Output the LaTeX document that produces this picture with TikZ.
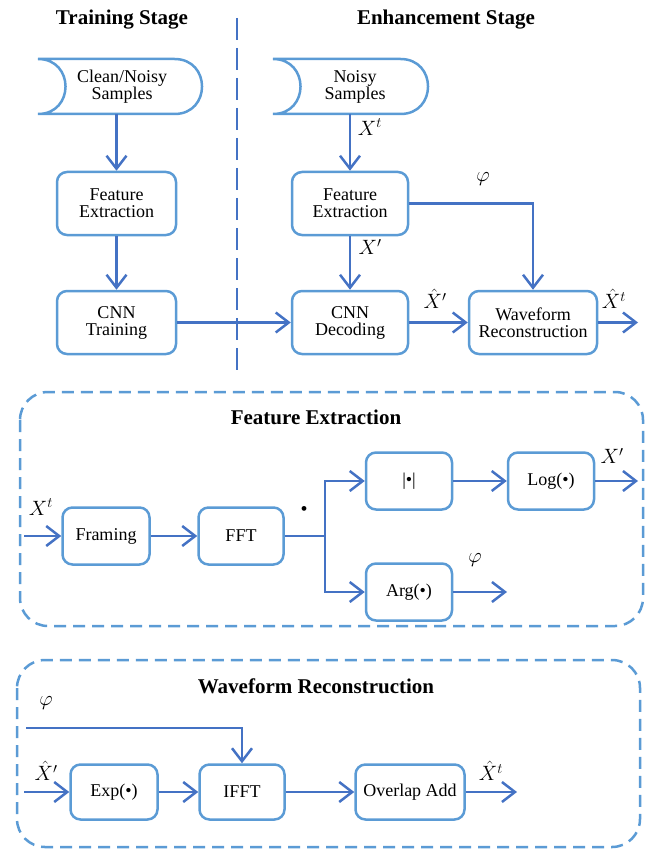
\documentclass[tikz,border=0pt]{standalone}
\usepackage{fontspec}
\setmainfont{Liberation Serif}
\usetikzlibrary{arrows.meta}
\definecolor{boxblue}{RGB}{91,155,213}
\definecolor{arrblue}{RGB}{68,114,196}
\begin{document}
\begin{tikzpicture}[x=1pt,y=-1pt,
  box/.style={draw=boxblue, line width=2.5pt, rounded corners=10pt, align=center,
    font=\fontsize{18}{17}\selectfont, inner sep=0pt},
  txt/.style={align=center, font=\fontsize{18}{17}\selectfont, inner sep=0pt},
  sampleshape/.style={draw=boxblue, line width=2.5pt},
  arr/.style={draw=arrblue, line width=2.5pt, -{Straight Barb[length=13pt,width=20pt]}},
  ln/.style={draw=arrblue, line width=2.5pt},
  ttl/.style={font=\fontsize{21}{24}\selectfont\bfseries, inner sep=0pt},
  lbl/.style={font=\fontsize{20}{22}\selectfont, inner sep=0pt},
  panel/.style={draw=boxblue, line width=2.5pt, dash pattern=on 12pt off 7pt, rounded corners=28pt}]
\useasboundingbox (0,0) rectangle (649,850);

% ---------- top section ----------
\node[ttl] (t1) at (122,20) {Training Stage};
\node[ttl] (t2) at (446,20) {Enhancement Stage};
\draw[arrblue, line width=2.5pt, dash pattern=on 22pt off 8pt] (237,18) -- (237,372);

% sample shapes
\draw[sampleshape] (38,59) -- (174.5,59) .. controls (211.2,59) and (211.2,114) .. (174.5,114)
  -- (38,114) .. controls (74.7,114) and (74.7,59) .. (38,59) -- cycle;
\node[txt] (cs) at (122,86.5) {Clean/Noisy\\Samples};
\coordinate (csb) at (116.5,114);

\draw[sampleshape] (273,59) -- (400.5,59) .. controls (437.2,59) and (437.2,114) .. (400.5,114)
  -- (273,114) .. controls (309.7,114) and (309.7,59) .. (273,59) -- cycle;
\node[txt] (ns) at (355,86.5) {Noisy\\Samples};
\coordinate (nsb) at (350,114);

\node[box, minimum width=119pt, minimum height=63pt] (fe1) at (116.5,203.5) {Feature\\Extraction};
\node[box, minimum width=119pt, minimum height=63pt] (cnt) at (116.5,322.5) {CNN\\Training};
\node[box, minimum width=116pt, minimum height=63pt] (fe2) at (350,203.5) {Feature\\Extraction};
\node[box, minimum width=116pt, minimum height=63pt] (cnd) at (350,322.5) {CNN\\Decoding};
\node[box, minimum width=128pt, minimum height=63pt] (wr) at (533,322.5) {Waveform\\Reconstruction};
\coordinate (wrout) at (638,322.5);

\draw[arr] (csb) -- (fe1.north);
\draw[arr] (fe1) -- (cnt);
\draw[arr] (cnt) -- (cnd);
\draw[arr] (nsb) -- (fe2.north);
\draw[arr] (fe2) -- (cnd);
\draw[arr] (fe2.east) -- (wr.north |- fe2.east) -- (wr.north);
\draw[arr] (cnd) -- (wr);
\draw[arr] (wr.east) -- (wrout);

\node[lbl] (l1) at (370,127) {$X^t$};
\node[lbl] (l2) at (370,247) {$X'$};
\node[lbl] (l3) at (483,179) {$\varphi$};
\node[lbl] (l4) at (435,299) {$\hat{X}'$};
\node[lbl] (l5) at (614,299) {$\hat{X}^t$};

% ---------- Feature Extraction panel ----------
\draw[panel] (20,392) rectangle (643,626);
\node[ttl] (t3) at (316,417) {Feature Extraction};

\node[box, minimum width=87pt, minimum height=57pt] (fr) at (106,536) {Framing};
\node[box, minimum width=85pt, minimum height=57pt] (fft) at (241,536) {FFT};
\node[box, minimum width=86pt, minimum height=57pt] (abs) at (409,481) {|•|};
\node[box, minimum width=86pt, minimum height=57pt] (log) at (551,481) {Log(•)};
\node[box, minimum width=86pt, minimum height=57pt] (arg) at (409,592) {Arg(•)};
\coordinate (fein) at (24,536);
\coordinate (br) at (325,536);
\coordinate (logout) at (638,481);
\coordinate (argout) at (507,592);

\draw[arr] (fein) -- (fr);
\draw[arr] (fr) -- (fft);
\draw[ln] (fft.east) -- (br);
\draw[arr] (br) |- (abs.west);
\draw[arr] (br) |- (arg.west);
\draw[arr] (abs) -- (log);
\draw[arr] (log.east) -- (logout);
\draw[arr] (arg.east) -- (argout);

\node[lbl] (l6) at (41,507) {$X^t$};
\node[lbl] (l7) at (304,511) {•};
\node[lbl] (l8) at (612,456) {$X'$};
\node[lbl] (l9) at (475,560) {$\varphi$};

% ---------- Waveform Reconstruction panel ----------
\draw[panel] (17,660) rectangle (640,847);
\node[ttl] (t4) at (316,686) {Waveform Reconstruction};

\node[box, minimum width=87pt, minimum height=55pt] (exp) at (114,792) {Exp(•)};
\node[box, minimum width=85pt, minimum height=55pt] (ifft) at (242,792) {IFFT};
\node[box, minimum width=109pt, minimum height=55pt] (ola) at (410,792) {Overlap Add};
\coordinate (wrin) at (24,792);
\coordinate (phin) at (26,728);
\coordinate (olaout) at (517,792);

\draw[arr] (phin) -| (ifft.north);
\draw[arr] (wrin) -- (exp);
\draw[arr] (exp) -- (ifft);
\draw[arr] (ifft) -- (ola);
\draw[arr] (ola.east) -- (olaout);

\node[lbl] (l10) at (46,703) {$\varphi$};
\node[lbl] (l11) at (46,771) {$\hat{X}'$};
\node[lbl] (l12) at (491,771) {$\hat{X}^t$};
\end{tikzpicture}
\end{document}
